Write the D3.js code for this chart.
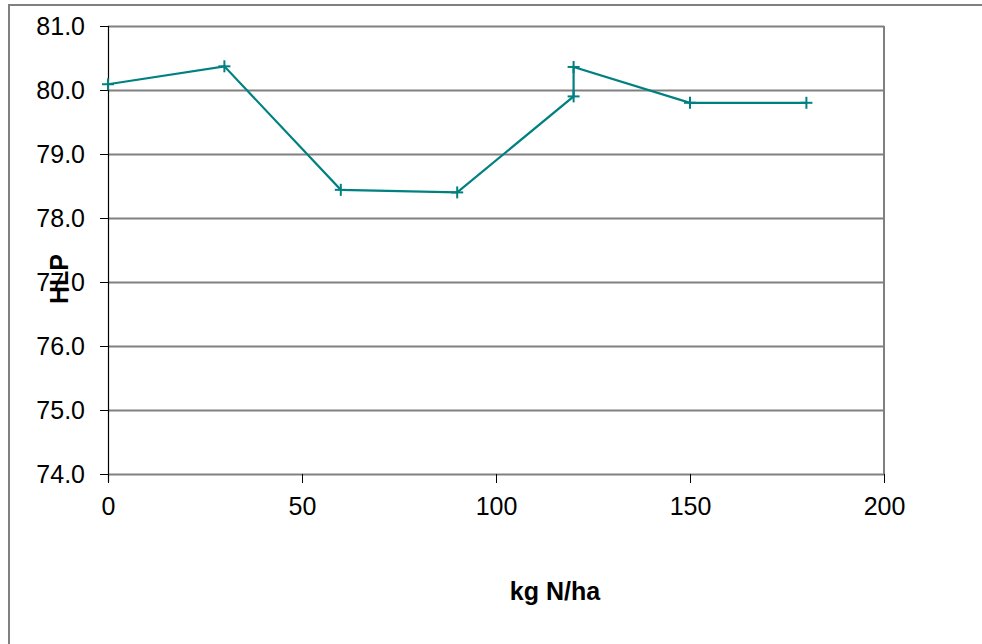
<!DOCTYPE html>
<html>
<head>
<meta charset="utf-8">
<script src="https://cdn.jsdelivr.net/npm/d3@7/dist/d3.min.js"></script>
<style>
  html, body { margin: 0; padding: 0; background: #fff; }
  svg { display: block; font-family: "Liberation Sans", Arial, sans-serif; }
</style>
</head>
<body>
<svg id="chart" width="982" height="644"></svg>
<script>
// Nitrogen rate (kg N/ha) and HLP readings, in plotting order
const nRate = [0, 30, 60, 90, 120, 120, 150, 180];
const hlp = [80.09, 80.37, 78.44, 78.40, 79.90, 80.36, 79.80, 79.80];
const yTicks = [74, 75, 76, 77, 78, 79, 80, 81];
const xTicks = [0, 50, 100, 150, 200];
const xTitle = "kg N/ha";
const yTitle = "HLP";

const svg = d3.select("#chart");
const plot = { left: 108, right: 884, top: 26, bottom: 474 };

const x = d3.scaleLinear().domain([0, 200]).range([plot.left, plot.right]);
const y = d3.scaleLinear().domain([74, 81]).range([plot.bottom, plot.top]);

// outer chart frame
svg.append("rect")
  .attr("x", 9).attr("y", 5).attr("width", 1000).attr("height", 700)
  .attr("fill", "none").attr("stroke", "#808080").attr("stroke-width", 2);

// horizontal gridlines
svg.append("g").selectAll("line").data(yTicks).join("line")
  .attr("x1", plot.left).attr("x2", plot.right)
  .attr("y1", d => Math.round(y(d)) + 0.5).attr("y2", d => Math.round(y(d)) + 0.5)
  .attr("stroke", "#808080").attr("stroke-width", 2);

// right edge of plot area
svg.append("line")
  .attr("x1", plot.right).attr("x2", plot.right)
  .attr("y1", plot.top).attr("y2", plot.bottom)
  .attr("stroke", "#808080").attr("stroke-width", 2);

// y axis
const yAxis = svg.append("g")
  .attr("transform", `translate(${plot.left},0)`)
  .call(d3.axisLeft(y).tickValues(yTicks).tickSize(8).tickPadding(15)
    .tickFormat(d3.format(".1f")));
yAxis.select(".domain").attr("stroke", "#000").attr("stroke-width", 1);
yAxis.selectAll(".tick line").attr("stroke", "#000");
yAxis.selectAll("text").attr("font-size", 25).attr("fill", "#000")
  .attr("font-family", "Liberation Sans, Arial, sans-serif");

// x axis
const xAxis = svg.append("g")
  .attr("transform", `translate(0,${plot.bottom})`)
  .call(d3.axisBottom(x).tickValues(xTicks).tickSize(9).tickPadding(14)
    .tickFormat(d3.format("d")));
xAxis.select(".domain").remove();
xAxis.selectAll(".tick line").attr("stroke", "#000");
xAxis.selectAll("text").attr("font-size", 25).attr("fill", "#000")
  .attr("font-family", "Liberation Sans, Arial, sans-serif");

// left axis line drawn on top of gridlines
svg.append("line")
  .attr("x1", plot.left + 0.5).attr("x2", plot.left + 0.5)
  .attr("y1", plot.top).attr("y2", plot.bottom + 8)
  .attr("stroke", "#000").attr("stroke-width", 1.2);

// data line
const pts = nRate.map((d, i) => [d, hlp[i]]);
svg.append("path")
  .datum(pts)
  .attr("fill", "none").attr("stroke", "#008080").attr("stroke-width", 2.2)
  .attr("d", d3.line().x(d => x(d[0])).y(d => y(d[1])));

// plus markers
const m = 6;
const markers = svg.append("g").attr("stroke", "#008080").attr("stroke-width", 2);
pts.forEach(d => {
  const px = x(d[0]), py = y(d[1]);
  markers.append("line").attr("x1", px - m).attr("x2", px + m).attr("y1", py).attr("y2", py);
  markers.append("line").attr("x1", px).attr("x2", px).attr("y1", py - m).attr("y2", py + m);
});

// axis titles
svg.append("text")
  .attr("x", 555).attr("y", 600)
  .attr("text-anchor", "middle").attr("font-size", 25).attr("font-weight", "bold")
  .text(xTitle);

svg.append("text")
  .attr("transform", "translate(68,279) rotate(-90)")
  .attr("text-anchor", "middle").attr("font-size", 25).attr("font-weight", "bold")
  .text(yTitle);
</script>
</body>
</html>
